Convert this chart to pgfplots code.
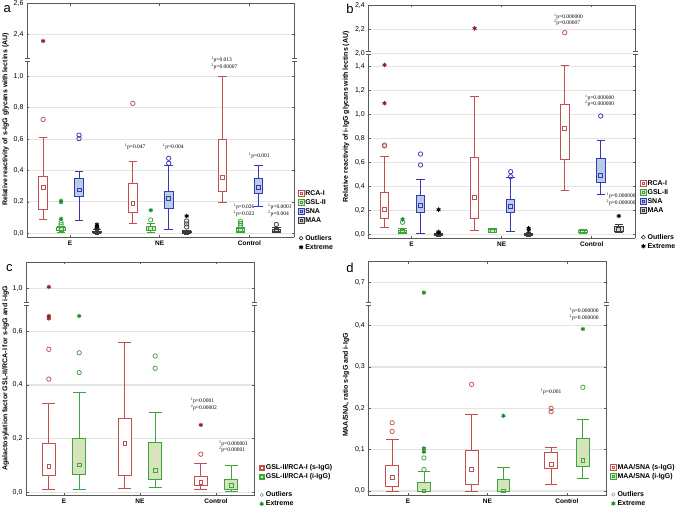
\documentclass[border=0pt]{standalone}
\usepackage{fontspec}
\setmainfont{Liberation Sans}
\newfontfamily\pfont{Liberation Serif}
\usepackage{pgfplots}
\pgfplotsset{compat=1.18}
\usepgfplotslibrary{statistics}

\definecolor{rcared}{RGB}{192,80,77}
\definecolor{rcadark}{RGB}{150,30,35}
\definecolor{gslgreen}{RGB}{60,165,60}
\definecolor{gsldark}{RGB}{30,140,40}
\definecolor{gslfill}{RGB}{214,227,188}
\definecolor{snablue}{RGB}{55,55,185}
\definecolor{snafill}{RGB}{184,204,228}
\definecolor{maagray}{RGB}{60,60,60}
\definecolor{maafill}{RGB}{210,210,210}
\definecolor{framegray}{RGB}{90,90,90}
\definecolor{gridgray}{RGB}{228,228,228}

\pgfplotsset{
  panel/.style={scale only axis, clip=false, xtick={0,1,2},
    axis line style={-, draw=framegray, line width=0.8pt},
    tick style={draw=framegray, line width=0.6pt},
    tick align=inside, major tick length=2.5pt,
    ymajorgrids, grid style={draw=gridgray, line width=1.1pt},
    yticklabel style={font=\fontsize{7}{8}\selectfont},
    xticklabel style={font=\bfseries\fontsize{6.5}{7.5}\selectfont},
    boxplot/draw direction=y,
    boxplot/draw/median/.code={},
  },
  lowpart/.style={panel, axis x line*=bottom, axis y line*=box, xtick pos=left, xticklabels={E,NE,Control}},
  highpart/.style={panel, axis x line*=top, axis y line*=box, xtick pos=right, xticklabels={}},
  rcabox/.style={forget plot, draw=rcared, fill=white, line width=0.8pt},
  gslbox/.style={forget plot, draw=gslgreen, fill=gslfill, line width=0.8pt},
  snabox/.style={forget plot, draw=snablue, fill=snafill, line width=0.8pt},
  maabox/.style={forget plot, draw=maagray, fill=maafill, line width=0.8pt},
  med/.style={forget plot, only marks, mark=square, mark size=1.9pt, mark options={line width=0.8pt}},
  outl/.style={forget plot, only marks, mark=o, mark size=2.2pt, mark options={line width=0.75pt}},
  extr/.style={forget plot, only marks, mark=asterisk, mark size=2.2pt, mark options={line width=1pt}},
  boxleg/.style={legend image code/.code={
     \draw[##1, line width=0.7pt] (0pt,-2.8pt) rectangle (5.6pt,2.8pt);
     \draw[##1, fill=none, line width=0.6pt] (1.6pt,-1.2pt) rectangle (4pt,1.2pt);}},
  markleg/.style={legend image code/.code={\draw[##1] plot coordinates {(2.8pt,0pt)};}},
  legstyle/.style={legend style={draw=none, fill=none, anchor=north west, legend cell align=left,
     font=\bfseries\fontsize{7}{8}\selectfont, row sep=0pt, inner sep=0pt,
     nodes={inner sep=1pt, text height=5.5pt, text depth=1.5pt}}},
}
\tikzset{pnote/.style={align=left, inner sep=0pt, font=\pfont\fontsize{5.5}{6.6}\selectfont},
  lab/.style={rotate=90, font=\bfseries\fontsize{7}{8}\selectfont},
  letter/.style={font=\fontsize{13}{13}\selectfont, inner sep=0pt}}

\newcommand{\brk}[1]{%
  \foreach \c in {south west, south east}{
    \fill[white] ([xshift=-2.5pt,yshift=-1.3pt]#1.\c) rectangle ([xshift=2.5pt,yshift=1.3pt]#1.\c);
    \draw[framegray, line width=0.6pt] ([xshift=-2.5pt,yshift=-1.5pt]#1.\c) -- ++(5pt,0)
      ([xshift=-2.5pt,yshift=1.5pt]#1.\c) -- ++(5pt,0);
  }}

\begin{document}
\begin{tikzpicture}

% ================= panel a =================
\begin{axis}[lowpart, name=aL, at={(27pt,279.7pt)}, anchor=south west,
  width=267.3pt, height=177.3pt, xmin=-0.48, xmax=2.5, ymin=-0.0255, ymax=1.104,
  ytick={0,0.2,0.4,0.6,0.8,1.0}, yticklabels={0{,}0,0{,}2,0{,}4,0{,}6,0{,}8,1{,}0},
  boxplot/box extend=0.095, boxplot/whisker extend=0.095,
  legstyle, legend style={at={(1.013,0.275)}}]
\addlegendimage{boxleg, draw=rcared, fill=white}\addlegendentry{RCA-I}
\addlegendimage{boxleg, draw=gslgreen, fill=gslfill}\addlegendentry{GSL-II}
\addlegendimage{boxleg, draw=snablue, fill=snafill}\addlegendentry{SNA}
\addlegendimage{boxleg, draw=maagray, fill=maafill}\addlegendentry{MAA}
\addlegendimage{empty legend}\addlegendentry{}
\addlegendimage{markleg, only marks, mark=o, mark size=1.9pt, black}\addlegendentry{Outliers}
\addlegendimage{markleg, only marks, mark=asterisk, mark size=2.2pt, black, line width=1pt}\addlegendentry{Extreme}
% RCA-I
\addplot[rcabox, boxplot prepared={draw position=-0.3, lower whisker=0.09, lower quartile=0.155, median=0.29, upper quartile=0.365, upper whisker=0.61}] coordinates {};
\addplot[rcabox, boxplot prepared={draw position=0.7, lower whisker=0.064, lower quartile=0.134, median=0.191, upper quartile=0.318, upper whisker=0.456}] coordinates {};
\addplot[rcabox, boxplot prepared={draw position=1.7, lower whisker=0.195, lower quartile=0.268, median=0.357, upper quartile=0.599, upper whisker=1.0}] coordinates {};
\addplot[med, rcared] coordinates {(-0.3,0.29) (0.7,0.191) (1.7,0.357)};
\addplot[outl, rcared] coordinates {(-0.3,0.725) (0.7,0.828)};
% GSL-II
\addplot[gslbox, boxplot prepared={draw position=-0.1, lower whisker=0.005, lower quartile=0.018, median=0.025, upper quartile=0.035, upper whisker=0.045}] coordinates {};
\addplot[gslbox, boxplot prepared={draw position=0.9, lower whisker=0.005, lower quartile=0.02, median=0.03, upper quartile=0.045, upper whisker=0.06}] coordinates {};
\addplot[gslbox, boxplot prepared={draw position=1.9, lower whisker=0.005, lower quartile=0.012, median=0.02, upper quartile=0.03, upper whisker=0.04}] coordinates {};
\addplot[med, gslgreen] coordinates {(-0.1,0.025) (0.9,0.03) (1.9,0.02)};
\addplot[outl, gslgreen] coordinates {(-0.1,0.055) (-0.1,0.068) (0.9,0.085) (1.9,0.05) (1.9,0.063) (1.9,0.077)};
\addplot[extr, gsldark] coordinates {(-0.1,0.092) (-0.1,0.198) (-0.1,0.207) (0.9,0.147)};
% SNA
\addplot[snabox, boxplot prepared={draw position=0.1, lower whisker=0.081, lower quartile=0.233, median=0.276, upper quartile=0.35, upper whisker=0.393}] coordinates {};
\addplot[snabox, boxplot prepared={draw position=1.1, lower whisker=0.025, lower quartile=0.157, median=0.22, upper quartile=0.265, upper whisker=0.431}] coordinates {};
\addplot[snabox, boxplot prepared={draw position=2.1, lower whisker=0.17, lower quartile=0.255, median=0.293, upper quartile=0.35, upper whisker=0.431}] coordinates {};
\addplot[med, snablue] coordinates {(0.1,0.276) (1.1,0.22) (2.1,0.293)};
\addplot[outl, snablue] coordinates {(0.1,0.603) (0.1,0.625) (1.1,0.446) (1.1,0.478)};
% MAA
\addplot[maabox, boxplot prepared={draw position=0.3, lower whisker=0, lower quartile=0.003, median=0.008, upper quartile=0.015, upper whisker=0.022}] coordinates {};
\addplot[maabox, boxplot prepared={draw position=1.3, lower whisker=0, lower quartile=0.003, median=0.008, upper quartile=0.015, upper whisker=0.02}] coordinates {};
\addplot[maabox, boxplot prepared={draw position=2.3, lower whisker=0.005, lower quartile=0.012, median=0.018, upper quartile=0.025, upper whisker=0.035}] coordinates {};
\addplot[med, maagray] coordinates {(0.3,0.008) (1.3,0.008) (2.3,0.018)};
\addplot[outl, maagray] coordinates {(0.3,0.03) (1.3,0.04) (1.3,0.06) (1.3,0.078) (2.3,0.056)};
\addplot[extr, black] coordinates {(0.3,0.038) (0.3,0.046) (0.3,0.055) (1.3,0.11)};
\node[pnote] at (axis cs:0.725,0.549) {\textsuperscript{1}p=0.047};
\node[pnote] at (axis cs:1.15,0.549) {\textsuperscript{1}p=0.004};
\node[pnote] at (axis cs:1.72,1.083) {\textsuperscript{1}p=0.013\\\textsuperscript{2}p=0.00007};
\node[pnote] at (axis cs:1.94,0.145) {\textsuperscript{1}p=0.026\\\textsuperscript{2}p=0.022};
\node[pnote] at (axis cs:2.11,0.494) {\textsuperscript{1}p=0.001};
\node[pnote] at (axis cs:2.34,0.146) {\textsuperscript{1}p=0.0001\\\textsuperscript{2}p=0.004};
\end{axis}
\begin{axis}[highpart, name=aU, at={(27pt,457pt)}, anchor=south west,
  width=267.3pt, height=56.7pt, xmin=-0.48, xmax=2.5, ymin=2.239, ymax=2.6,
  ytick={2.4,2.6}, yticklabels={2{,}4,2{,}6}]
\addplot[extr, rcadark] coordinates {(-0.3,2.36)};
\end{axis}
\brk{aU}
\node[lab] at (5.5pt,397.5pt) {Relative reactivity of s-IgG glycans with lectins (AU)};
\node[letter] at (7.3pt,508pt) {a};

% ================= panel b =================
\begin{axis}[lowpart, name=bL, at={(368.3pt,278.7pt)}, anchor=south west,
  width=266.7pt, height=185pt, xmin=-0.48, xmax=2.48, ymin=-0.033, ymax=1.508,
  ytick={0,0.2,0.4,0.6,0.8,1.0,1.2,1.4}, yticklabels={0{,}0,0{,}2,0{,}4,0{,}6,0{,}8,1{,}0,1{,}2,1{,}4},
  boxplot/box extend=0.093, boxplot/whisker extend=0.093,
  legstyle, legend style={at={(1.019,0.323)}}]
\addlegendimage{boxleg, draw=rcared, fill=white}\addlegendentry{RCA-I}
\addlegendimage{boxleg, draw=gslgreen, fill=gslfill}\addlegendentry{GSL-II}
\addlegendimage{boxleg, draw=snablue, fill=snafill}\addlegendentry{SNA}
\addlegendimage{boxleg, draw=maagray, fill=maafill}\addlegendentry{MAA}
\addlegendimage{empty legend}\addlegendentry{}
\addlegendimage{empty legend}\addlegendentry{}
\addlegendimage{markleg, only marks, mark=o, mark size=1.9pt, black}\addlegendentry{Outliers}
\addlegendimage{markleg, only marks, mark=asterisk, mark size=2.2pt, black, line width=1pt}\addlegendentry{Extreme}
% RCA-I
\addplot[rcabox, boxplot prepared={draw position=-0.3, lower whisker=0.056, lower quartile=0.133, median=0.208, upper quartile=0.35, upper whisker=0.647}] coordinates {};
\addplot[rcabox, boxplot prepared={draw position=0.7, lower whisker=0.036, lower quartile=0.136, median=0.308, upper quartile=0.644, upper whisker=1.147}] coordinates {};
\addplot[rcabox, boxplot prepared={draw position=1.7, lower whisker=0.364, lower quartile=0.625, median=0.883, upper quartile=1.086, upper whisker=1.411}] coordinates {};
\addplot[med, rcared] coordinates {(-0.3,0.208) (0.7,0.308) (1.7,0.883)};
\addplot[outl, rcared] coordinates {(-0.3,0.736) (-0.3,0.744)};
\addplot[extr, rcadark] coordinates {(-0.3,1.092) (-0.3,1.411)};
% GSL-II
\addplot[gslbox, boxplot prepared={draw position=-0.1, lower whisker=0.01, lower quartile=0.015, median=0.025, upper quartile=0.035, upper whisker=0.05}] coordinates {};
\addplot[gslbox, boxplot prepared={draw position=0.9, lower whisker=0.015, lower quartile=0.02, median=0.03, upper quartile=0.04, upper whisker=0.05}] coordinates {};
\addplot[gslbox, boxplot prepared={draw position=1.9, lower whisker=0.01, lower quartile=0.015, median=0.025, upper quartile=0.035, upper whisker=0.045}] coordinates {};
\addplot[med, gslgreen] coordinates {(-0.1,0.025) (0.9,0.03) (1.9,0.025)};
\addplot[outl, gslgreen] coordinates {(-0.1,0.1)};
\addplot[extr, gsldark] coordinates {(-0.1,0.125)};
% SNA
\addplot[snabox, boxplot prepared={draw position=0.1, lower whisker=0.008, lower quartile=0.18, median=0.239, upper quartile=0.328, upper whisker=0.458}] coordinates {};
\addplot[snabox, boxplot prepared={draw position=1.1, lower whisker=0.028, lower quartile=0.183, median=0.236, upper quartile=0.292, upper whisker=0.475}] coordinates {};
\addplot[snabox, boxplot prepared={draw position=2.1, lower whisker=0.336, lower quartile=0.431, median=0.494, upper quartile=0.633, upper whisker=0.786}] coordinates {};
\addplot[med, snablue] coordinates {(0.1,0.239) (1.1,0.236) (2.1,0.494)};
\addplot[outl, snablue] coordinates {(0.1,0.578) (0.1,0.669) (1.1,0.48) (1.1,0.522) (2.1,0.986)};
% MAA
\addplot[maabox, boxplot prepared={draw position=0.3, lower whisker=-0.005, lower quartile=-0.005, median=-0.002, upper quartile=0.003, upper whisker=0.008}] coordinates {};
\addplot[maabox, boxplot prepared={draw position=1.3, lower whisker=-0.005, lower quartile=-0.005, median=-0.002, upper quartile=0.003, upper whisker=0.008}] coordinates {};
\addplot[maabox, boxplot prepared={draw position=2.3, lower whisker=0.014, lower quartile=0.025, median=0.042, upper quartile=0.064, upper whisker=0.083}] coordinates {};
\addplot[med, maagray] coordinates {(0.3,-0.002) (1.3,-0.002) (2.3,0.042)};
\addplot[extr, black] coordinates {(0.3,0.015) (0.3,0.02) (0.3,0.206) (1.3,0.035) (1.3,0.05) (2.3,0.153)};
\node[pnote] at (axis cs:2.087,1.111) {\textsuperscript{1}p=0.000000\\\textsuperscript{2}p=0.000000};
\node[pnote] at (axis cs:2.326,0.294) {\textsuperscript{1}p=0.000000\\\textsuperscript{2}p=0.000000};
\end{axis}
\begin{axis}[highpart, name=bU, at={(368.3pt,463.7pt)}, anchor=south west,
  width=266.7pt, height=48.3pt, xmin=-0.48, xmax=2.48, ymin=2.0, ymax=2.403,
  ytick={2.0,2.2,2.4}, yticklabels={2{,}0,2{,}2,2{,}4}]
\addplot[extr, rcadark] coordinates {(0.7,2.208)};
\addplot[outl, rcared] coordinates {(1.7,2.172)};
\node[pnote] at (axis cs:1.742,2.28) {\textsuperscript{1}p=0.000000\\\textsuperscript{2}p=0.00007};
\end{axis}
\brk{bU}
\node[lab] at (346pt,400.3pt) {Relative reactivity of i-IgG glycans with lectins (AU)};
\node[letter] at (350pt,507.7pt) {b};

% ================= panel c =================
\begin{axis}[lowpart, name=cL, at={(26pt,21.3pt)}, anchor=south west,
  width=228pt, height=191.4pt, xmin=-0.5, xmax=2.5, ymin=-0.0127, ymax=0.7007,
  ytick={0,0.2,0.4,0.6}, yticklabels={0{,}0,0{,}2,0{,}4,0{,}6},
  boxplot/box extend=0.175, boxplot/whisker extend=0.175,
  legstyle, legend style={at={(1.019,0.17)}}]
\addlegendimage{boxleg, draw=rcared, fill=white}\addlegendentry{GSL-II/RCA-I (s-IgG)}
\addlegendimage{boxleg, draw=gslgreen, fill=gslfill}\addlegendentry{GSL-II/RCA-I (i-IgG)}
\addlegendimage{empty legend}\addlegendentry{}
\addlegendimage{markleg, only marks, mark=o, mark size=1.7pt, gslgreen}\addlegendentry{Outliers}
\addlegendimage{markleg, only marks, mark=asterisk, mark size=2.2pt, gsldark, line width=1pt}\addlegendentry{Extreme}
\addplot[rcabox, boxplot prepared={draw position=-0.2, lower whisker=0.011, lower quartile=0.062, median=0.096, upper quartile=0.183, upper whisker=0.332}] coordinates {};
\addplot[rcabox, boxplot prepared={draw position=0.8, lower whisker=0.015, lower quartile=0.063, median=0.181, upper quartile=0.277, upper whisker=0.558}] coordinates {};
\addplot[rcabox, boxplot prepared={draw position=1.8, lower whisker=0.011, lower quartile=0.024, median=0.036, upper quartile=0.061, upper whisker=0.106}] coordinates {};
\addplot[med, rcared] coordinates {(-0.2,0.096) (0.8,0.181) (1.8,0.036)};
\addplot[outl, rcared] coordinates {(-0.2,0.422) (-0.2,0.533) (1.8,0.142)};
\addplot[extr, rcadark] coordinates {(-0.2,0.648) (-0.2,0.657) (1.8,0.251)};
\addplot[gslbox, boxplot prepared={draw position=0.2, lower whisker=0.012, lower quartile=0.066, median=0.102, upper quartile=0.2, upper whisker=0.371}] coordinates {};
\addplot[gslbox, boxplot prepared={draw position=1.2, lower whisker=0.019, lower quartile=0.048, median=0.082, upper quartile=0.185, upper whisker=0.298}] coordinates {};
\addplot[gslbox, boxplot prepared={draw position=2.2, lower whisker=0.005, lower quartile=0.011, median=0.027, upper quartile=0.048, upper whisker=0.102}] coordinates {};
\addplot[med, gslgreen] coordinates {(0.2,0.102) (1.2,0.082) (2.2,0.027)};
\addplot[outl, gslgreen] coordinates {(0.2,0.446) (0.2,0.52) (1.2,0.462) (1.2,0.508)};
\addplot[extr, gsldark] coordinates {(0.2,0.657)};
\node[pnote] at (axis cs:1.84,0.329) {\textsuperscript{1}p=0.0001\\\textsuperscript{2}p=0.00002};
\node[pnote] at (axis cs:2.23,0.169) {\textsuperscript{1}p=0.000001\\\textsuperscript{2}p=0.00001};
\end{axis}
\begin{axis}[highpart, name=cU, at={(26pt,212.7pt)}, anchor=south west,
  width=228pt, height=42.3pt, xmin=-0.5, xmax=2.5, ymin=0.94, ymax=1.098,
  ytick={1.0}, yticklabels={1{,}0}]
\addplot[extr, rcadark] coordinates {(-0.2,1.005)};
\end{axis}
\brk{cU}
\node[lab] at (5.5pt,139pt) {Agalactosylation factor GSL-II/RCA-I for s-IgG and i-IgG};
\node[letter] at (9.3pt,248.7pt) {c};

% ================= panel d =================
\begin{axis}[lowpart, name=dL, at={(368.3pt,21.3pt)}, anchor=south west,
  width=238.4pt, height=191.4pt, xmin=-0.5, xmax=2.5, ymin=-0.0114, ymax=0.4517,
  ytick={0,0.1,0.2,0.3,0.4}, yticklabels={0{,}0,0{,}1,0{,}2,0{,}3,0{,}4},
  boxplot/box extend=0.16, boxplot/whisker extend=0.16,
  legstyle, legend style={at={(1.014,0.172)}}]
\addlegendimage{boxleg, draw=rcared, fill=white}\addlegendentry{MAA/SNA (s-IgG)}
\addlegendimage{boxleg, draw=gslgreen, fill=gslfill}\addlegendentry{MAA/SNA (i-IgG)}
\addlegendimage{empty legend}\addlegendentry{}
\addlegendimage{markleg, only marks, mark=o, mark size=1.7pt, gslgreen}\addlegendentry{Outliers}
\addlegendimage{markleg, only marks, mark=asterisk, mark size=2.2pt, gsldark, line width=1pt}\addlegendentry{Extreme}
\addplot[rcabox, boxplot prepared={draw position=-0.2, lower whisker=0, lower quartile=0.011, median=0.033, upper quartile=0.061, upper whisker=0.126}] coordinates {};
\addplot[rcabox, boxplot prepared={draw position=0.8, lower whisker=0, lower quartile=0.015, median=0.052, upper quartile=0.098, upper whisker=0.185}] coordinates {};
\addplot[rcabox, boxplot prepared={draw position=1.8, lower whisker=0.017, lower quartile=0.055, median=0.065, upper quartile=0.094, upper whisker=0.105}] coordinates {};
\addplot[med, rcared] coordinates {(-0.2,0.033) (0.8,0.052) (1.8,0.065)};
\addplot[outl, rcared] coordinates {(-0.2,0.144) (-0.2,0.165) (0.8,0.258) (1.8,0.192) (1.8,0.2)};
\addplot[gslbox, boxplot prepared={draw position=0.2, lower whisker=0, lower quartile=0, median=0, upper quartile=0.02, upper whisker=0.047}] coordinates {};
\addplot[gslbox, boxplot prepared={draw position=1.2, lower whisker=0, lower quartile=0, median=0, upper quartile=0.028, upper whisker=0.058}] coordinates {};
\addplot[gslbox, boxplot prepared={draw position=2.2, lower whisker=0.031, lower quartile=0.059, median=0.074, upper quartile=0.128, upper whisker=0.173}] coordinates {};
\addplot[med, gslgreen] coordinates {(0.2,0) (1.2,0) (2.2,0.074)};
\addplot[outl, gslgreen] coordinates {(0.2,0.052) (0.2,0.08) (2.2,0.251)};
\addplot[extr, gsldark] coordinates {(0.2,0.095) (0.2,0.103) (1.2,0.182) (2.2,0.392)};
\node[pnote] at (axis cs:1.80,0.240) {\textsuperscript{1}p=0.001};
\node[pnote] at (axis cs:2.215,0.427) {\textsuperscript{1}p=0.000000\\\textsuperscript{2}p=0.000000};
\end{axis}
\begin{axis}[highpart, name=dU, at={(368.3pt,212.7pt)}, anchor=south west,
  width=238.4pt, height=42.6pt, xmin=-0.5, xmax=2.5, ymin=0.6477, ymax=0.7508,
  ytick={0.7}, yticklabels={0{,}7}]
\addplot[extr, gsldark] coordinates {(0.2,0.676)};
\end{axis}
\brk{dU}
\node[lab] at (346pt,132pt) {MAA/SNA, ratio s-IgG and i-IgG};
\node[letter] at (350pt,248.7pt) {d};

\pgfresetboundingbox
\path[use as bounding box] (0,0) rectangle (685pt,517pt);
\end{tikzpicture}
\end{document}
